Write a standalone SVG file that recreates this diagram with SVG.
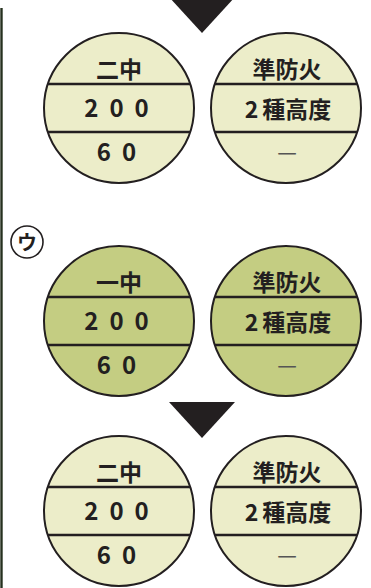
<svg xmlns="http://www.w3.org/2000/svg" width="371" height="588" viewBox="0 0 371 588">
<style>
.pale{fill:#ecedc9;stroke:#231f20;stroke-width:2}
.green{fill:#c4cd82;stroke:#231f20;stroke-width:2}
.div{stroke:#231f20;stroke-width:2.4}
.t{font-family:"Noto Sans CJK JP","Noto Sans",sans-serif;font-weight:700;font-size:23px;fill:#231f20;text-anchor:middle}
.n{font-family:"Noto Sans CJK JP","Noto Sans",sans-serif;font-weight:700;font-size:24px;fill:#231f20;text-anchor:middle;letter-spacing:11px}
.d{font-family:"Noto Sans CJK JP",sans-serif;font-weight:400;font-size:22px;fill:#555;text-anchor:middle}
.tri{fill:#231f20}
</style>
<rect width="371" height="588" fill="#ffffff"/>
<line x1="1.5" y1="8" x2="1.5" y2="588" stroke="#26311f" stroke-width="2.4"/>
<g id="connectors">
<polygon class="tri" points="169,-3 235,-3 202,33"/>
<polygon class="tri" points="169,402 235,402 202,438"/>
</g>
<g id="label-u">
<circle cx="27" cy="242" r="16" fill="#fff" stroke="#231f20" stroke-width="1.6"/>
<text x="27" y="250" class="t" style="font-size:20px">ウ</text>
</g>
<g id="n1a">
<circle class="pale" cx="119" cy="108" r="75"/>
<line class="div" x1="48" y1="84" x2="190" y2="84"/>
<line class="div" x1="48" y1="132" x2="190" y2="132"/>
<text class="t" x="119" y="78">二中</text>
<text class="n" x="122" y="117">200</text>
<text class="n" x="122" y="161">60</text>
</g>
<g id="n1b">
<circle class="pale" cx="286" cy="108" r="75"/>
<line class="div" x1="215" y1="84" x2="357" y2="84"/>
<line class="div" x1="215" y1="132" x2="357" y2="132"/>
<text class="t" x="287" y="78">準防火</text>
<text class="t" x="288" y="118">2<tspan dx="4">種高度</tspan></text>
<text class="d" x="287" y="160">—</text>
</g>
<g id="n2a">
<circle class="green" cx="119" cy="321" r="75"/>
<line class="div" x1="48" y1="297" x2="190" y2="297"/>
<line class="div" x1="48" y1="345" x2="190" y2="345"/>
<text class="t" x="119" y="291">一中</text>
<text class="n" x="122" y="330">200</text>
<text class="n" x="122" y="374">60</text>
</g>
<g id="n2b">
<circle class="green" cx="286" cy="321" r="75"/>
<line class="div" x1="215" y1="297" x2="357" y2="297"/>
<line class="div" x1="215" y1="345" x2="357" y2="345"/>
<text class="t" x="287" y="291">準防火</text>
<text class="t" x="288" y="331">2<tspan dx="4">種高度</tspan></text>
<text class="d" x="287" y="373">—</text>
</g>
<g id="n3a">
<circle class="pale" cx="119" cy="511" r="75"/>
<line class="div" x1="48" y1="487" x2="190" y2="487"/>
<line class="div" x1="48" y1="535" x2="190" y2="535"/>
<text class="t" x="119" y="481">二中</text>
<text class="n" x="122" y="520">200</text>
<text class="n" x="122" y="564">60</text>
</g>
<g id="n3b">
<circle class="pale" cx="286" cy="511" r="75"/>
<line class="div" x1="215" y1="487" x2="357" y2="487"/>
<line class="div" x1="215" y1="535" x2="357" y2="535"/>
<text class="t" x="287" y="481">準防火</text>
<text class="t" x="288" y="521">2<tspan dx="4">種高度</tspan></text>
<text class="d" x="287" y="563">—</text>
</g>
</svg>
